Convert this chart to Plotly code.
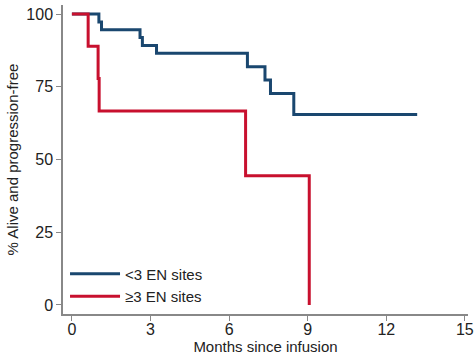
import plotly.graph_objects as go

# Kaplan-Meier step data (months, % alive and progression-free)
low_t = [0, 1.03, 1.13, 2.6, 2.69, 3.23, 6.7, 7.37, 7.58, 8.47, 13.18]
low_s = [100, 97.3, 94.6, 91.9, 89.2, 86.5, 81.9, 77.3, 72.7, 65.5, 65.5]
high_t = [0, 0.62, 1.0, 1.04, 6.63, 9.06]
high_s = [100, 88.9, 77.8, 66.7, 44.4, 0]

x_ticks = [0, 3, 6, 9, 12, 15]
y_ticks = [0, 25, 50, 75, 100]

BLUE = "#1a476f"
RED = "#c8102e"
FONT = "Liberation Sans, Arial, sans-serif"

fig = go.Figure()
fig.add_trace(go.Scatter(x=low_t, y=low_s, mode="lines", line=dict(color=BLUE, width=3, shape="hv"),
                         name="<3 EN sites"))
fig.add_trace(go.Scatter(x=high_t, y=high_s, mode="lines", line=dict(color=RED, width=3, shape="hv"),
                         name="≥3 EN sites"))

fig.update_layout(
    width=475, height=355,
    margin=dict(l=63, r=7, t=5, b=41),
    paper_bgcolor="white", plot_bgcolor="white",
    font=dict(family=FONT, size=15, color="#222"),
    showlegend=True,
    legend=dict(x=0.005, y=0.005, xanchor="left", yanchor="bottom", bgcolor="rgba(0,0,0,0)",
                font=dict(size=15, color="#222"), itemwidth=50, tracegroupgap=0),
    xaxis=dict(range=[-0.34, 15.12], tickvals=x_ticks, ticks="outside", ticklen=5, tickcolor="#888",
               showline=True, linecolor="#888", linewidth=1.5, showgrid=False, zeroline=False,
               automargin=False, ticklabelstandoff=-5,
               title=dict(text="Months since infusion", standoff=4, font=dict(size=15)),
               tickfont=dict(size=16)),
    yaxis=dict(range=[-3.1, 103.1], tickvals=y_ticks, ticks="outside", ticklen=5, tickcolor="#888",
               showline=True, linecolor="#888", linewidth=1.5, showgrid=False, zeroline=False,
               automargin=False,
               title=dict(text="% Alive and progression-free", standoff=4, font=dict(size=15)),
               tickfont=dict(size=16)),
)

fig.write_html("out.html")
